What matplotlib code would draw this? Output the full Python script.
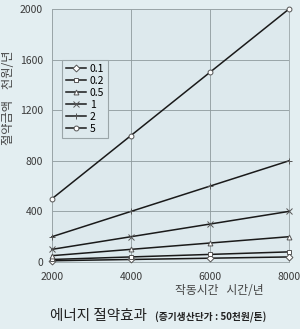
import matplotlib
matplotlib.use("Agg")
import matplotlib.pyplot as plt

hours = [2000, 4000, 6000, 8000]
labels = ["0.1", "0.2", "0.5", "1", "2", "5"]
s01 = [10, 20, 30, 40]
s02 = [20, 40, 60, 80]
s05 = [50, 100, 150, 200]
s1 = [100, 200, 300, 400]
s2 = [200, 400, 600, 800]
s5 = [500, 1000, 1500, 2000]
series = [s01, s02, s05, s1, s2, s5]
markers = ["D", "s", "^", "x", "+", "o"]
msizes = [3.5, 3.5, 3.5, 4, 5, 3.5]

plt.rcParams['font.family'] = ['Noto Sans CJK KR', 'DejaVu Sans']

bg = "#e3eef1"
fig = plt.figure(figsize=(3.0, 3.29), dpi=100, facecolor=bg)
ax = fig.add_axes([52/300, 1-262/329, (289-52)/300, (262-9)/329])
ax.set_facecolor("#dde9ed")

for vals, lab, m, ms in zip(series, labels, markers, msizes):
    ax.plot(hours, vals, color="#1a1a1a", lw=1.1, marker=m, ms=ms,
            mfc="white", mec="#555555", mew=0.7, label=lab, clip_on=False, zorder=3)

ax.set_xlim(2000, 8000)
ax.set_ylim(0, 2000)
ax.set_xticks([2000, 4000, 6000, 8000])
ax.set_yticks([0, 400, 800, 1200, 1600, 2000])
ax.grid(True, color="#8d999c", lw=0.6)
for sp in ax.spines.values():
    sp.set_color("#9aa5a8")
    sp.set_linewidth(0.6)
ax.tick_params(length=0, labelsize=7.5, colors="#3a3a3a")
ax.tick_params(axis='y', pad=6.5)
ax.tick_params(axis='x', pad=7)

leg = ax.legend(loc="upper left", bbox_to_anchor=(10/237, (262-60)/253), fontsize=7.5,
                frameon=True, fancybox=False, edgecolor="#9aa5a8", facecolor="#dde9ed",
                handlelength=2.0, handletextpad=0.3, labelspacing=0.2, borderpad=0.35,
                borderaxespad=0, framealpha=1)
leg.get_frame().set_linewidth(0.8)

fig.text(9/300, 1-98/329, "절약금액    천원/년", rotation=90, ha="center", va="center",
         fontsize=8.8, color="#444444")
fig.text(219/300, 1-290/329, "작동시간   시간/년", ha="center", va="center",
         fontsize=8.5, color="#444444")
fig.text(50/300, 1-316/329, "에너지 절약효과", ha="left", va="center",
         fontsize=10.5, color="#222222")
fig.text(155/300, 1-317/329, "(증기생산단가 : 50천원/톤)", ha="left", va="center",
         fontsize=7.0, color="#222222", fontweight="bold")

fig.savefig("out.png", dpi=100, facecolor=bg)
